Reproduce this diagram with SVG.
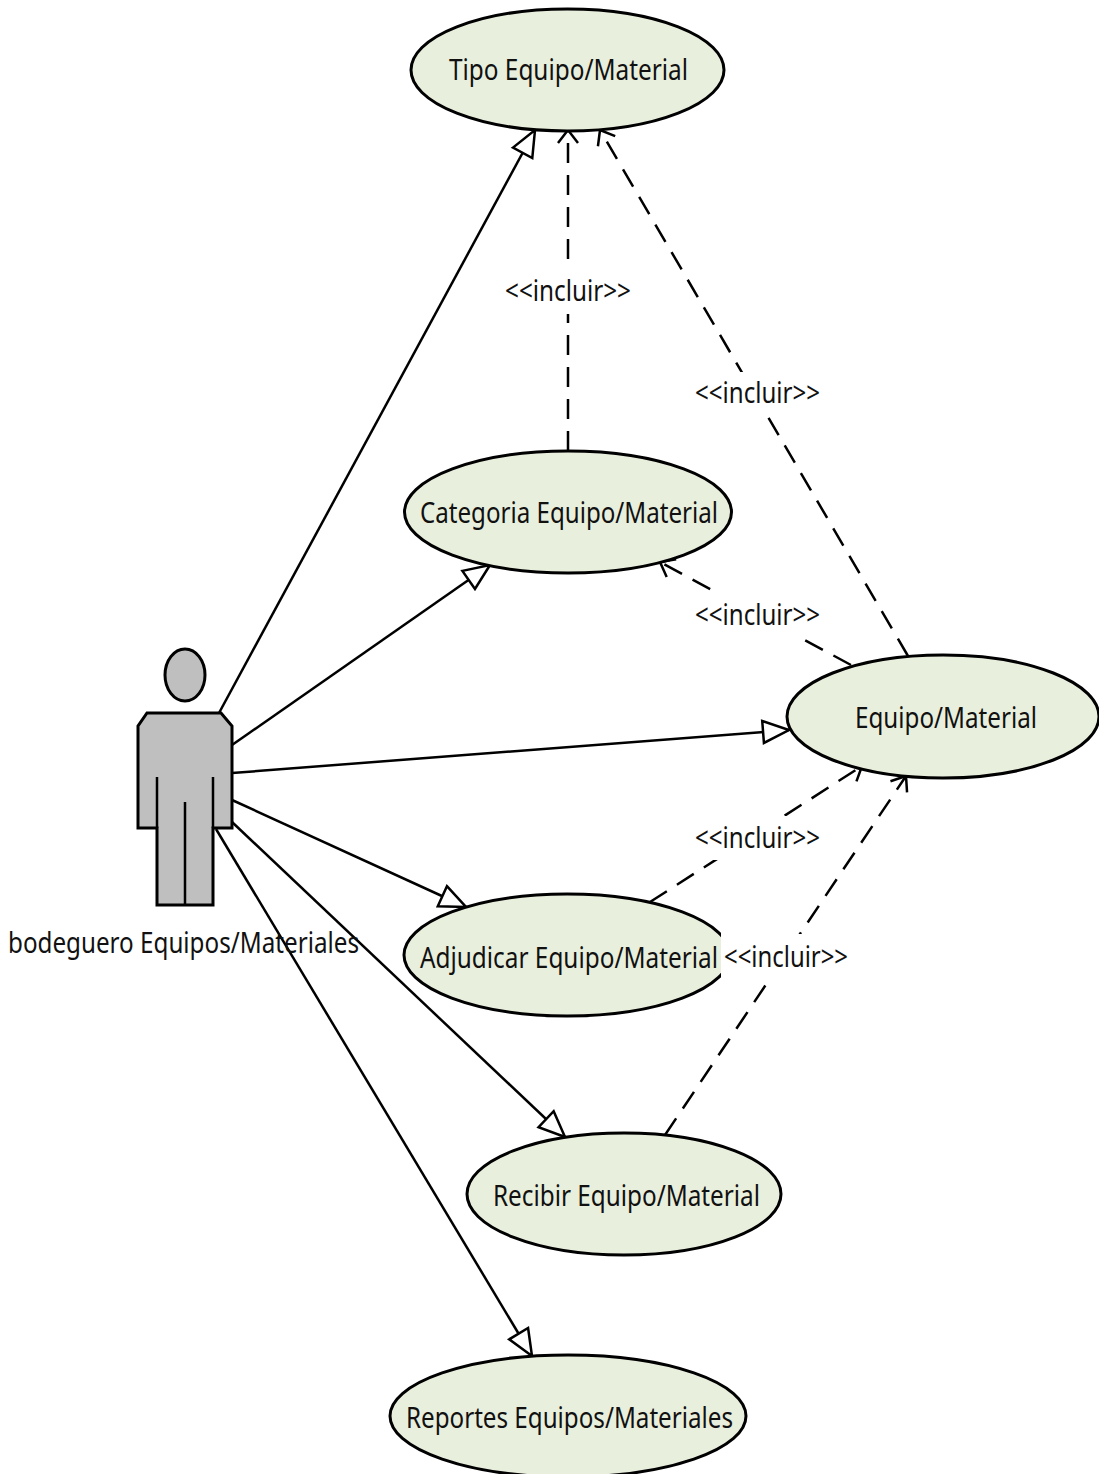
<svg xmlns="http://www.w3.org/2000/svg" width="1099" height="1474" viewBox="0 0 1099 1474">
<style>
text{font-family:"Noto Sans","Open Sans","Liberation Sans",sans-serif;font-size:29px;fill:#111}
.uc{fill:#e9efdd;stroke:#000;stroke-width:3}
.assoc{fill:none;stroke:#000;stroke-width:2.5;marker-end:url(#hollow)}
.incl{fill:none;stroke:#000;stroke-width:2.5;stroke-dasharray:20 12;marker-end:url(#open)}
.bg{fill:#fff}
.actor{fill:#bfbfbf;stroke:#000;stroke-width:3}
</style>
<defs>
<marker id="hollow" markerUnits="userSpaceOnUse" markerWidth="30" markerHeight="30" refX="27" refY="15" orient="auto" overflow="visible">
<path d="M1 4 L27 15 L1 26 Z" fill="#fff" stroke="#000" stroke-width="2.500"/>
</marker>
<marker id="open" markerUnits="userSpaceOnUse" markerWidth="30" markerHeight="30" refX="15" refY="15" orient="auto" overflow="visible">
<path d="M2 5 L15 15 L2 25" fill="none" stroke="#000" stroke-width="2.500"/>
</marker>
<clipPath id="clipAdj"><rect x="395" y="885" width="326" height="140"/></clipPath>
</defs>
<g id="connectors">
<path class="assoc" d="M219 713 L535 130"/>
<path class="assoc" d="M232 745 L490 565"/>
<path class="assoc" d="M232 773 L789 730"/>
<path class="assoc" d="M232 800 L466 907"/>
<path class="assoc" d="M232 822 L565 1137"/>
<path class="assoc" d="M216 829 L532 1356"/>
<path class="incl" d="M568 451 L568 130"/>
<path class="incl" d="M908 656 L600 130"/>
<path class="incl" d="M851 665 L660 562"/>
<path class="incl" d="M650 902 L862 766"/>
<path class="incl" d="M665 1135 L906 776"/>
<g id="connector-labels">
<rect class="bg" x="503" y="270" width="130" height="44"/>
<text x="505" y="301" textLength="126" lengthAdjust="spacingAndGlyphs">&lt;&lt;incluir&gt;&gt;</text>
<rect class="bg" x="693" y="372" width="130" height="44"/>
<text x="695" y="403" textLength="125" lengthAdjust="spacingAndGlyphs">&lt;&lt;incluir&gt;&gt;</text>
<rect class="bg" x="693" y="593" width="130" height="44"/>
<text x="695" y="625" textLength="125" lengthAdjust="spacingAndGlyphs">&lt;&lt;incluir&gt;&gt;</text>
<rect class="bg" x="693" y="816" width="130" height="44"/>
<text x="695" y="848" textLength="125" lengthAdjust="spacingAndGlyphs">&lt;&lt;incluir&gt;&gt;</text>
</g>
</g>
<g id="actor">
<ellipse class="actor" cx="185" cy="675" rx="20" ry="26"/>
<path class="actor" d="M147 713 H221 L232 726 V828 H213 V905 H157 V828 H138 V726 Z"/>
<path d="M157 777 V828 M213 777 V828 M185 802 V905" fill="none" stroke="#000" stroke-width="2.500"/>
<text x="8" y="953" textLength="351" lengthAdjust="spacingAndGlyphs">bodeguero Equipos/Materiales</text>
</g>
<g id="tipo">
<ellipse class="uc" cx="567.500" cy="70" rx="156.500" ry="61"/>
<text x="449" y="80" textLength="239" lengthAdjust="spacingAndGlyphs">Tipo Equipo/Material</text>
</g>
<g id="categoria">
<ellipse class="uc" cx="568" cy="512" rx="163.500" ry="61"/>
<text x="420" y="523" textLength="298" lengthAdjust="spacingAndGlyphs">Categoria Equipo/Material</text>
</g>
<g id="equipo">
<ellipse class="uc" cx="943" cy="716.500" rx="156" ry="61.500"/>
<text x="855" y="728" textLength="182" lengthAdjust="spacingAndGlyphs">Equipo/Material</text>
</g>
<g id="adjudicar">
<ellipse class="uc" cx="567" cy="955" rx="163" ry="61" clip-path="url(#clipAdj)"/>
<text transform="translate(420 968) scale(.84 1)">Adjudicar Equipo/Material</text>
</g>
<g id="incluir-recibir-label">
<rect class="bg" x="722" y="934" width="128" height="44"/>
<text x="724" y="967" textLength="124" lengthAdjust="spacingAndGlyphs">&lt;&lt;incluir&gt;&gt;</text>
</g>
<g id="recibir">
<ellipse class="uc" cx="624" cy="1194" rx="157" ry="61"/>
<text x="493" y="1206" textLength="267" lengthAdjust="spacingAndGlyphs">Recibir Equipo/Material</text>
</g>
<g id="reportes">
<ellipse class="uc" cx="568" cy="1416" rx="178" ry="61"/>
<text x="406" y="1428" textLength="327" lengthAdjust="spacingAndGlyphs">Reportes Equipos/Materiales</text>
</g>
</svg>
